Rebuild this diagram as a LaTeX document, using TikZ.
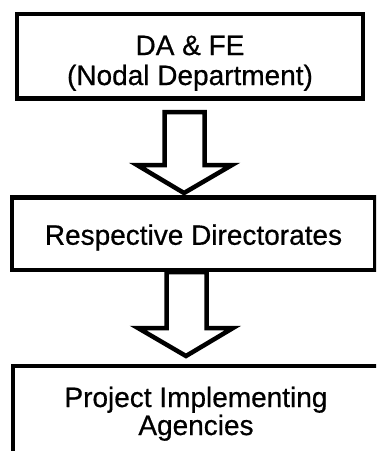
\documentclass[tikz,border=0pt]{standalone}
\usepackage{fontspec}
\setmainfont{Liberation Sans}
\newfontfamily\scanfont{Liberation Sans}[FakeBold=0.6]
\usetikzlibrary{calc}
\begin{document}
\begin{tikzpicture}[x=1pt,y=-1pt,
    box/.style={draw,line width=4.5pt,inner sep=0pt,outer sep=0pt},
    txt/.style={align=center,inner sep=0pt,font=\scanfont\fontsize{28}{28}\selectfont},
    hollow/.style={draw,line width=4.5pt,line join=miter}]
        \useasboundingbox (0,0) rectangle (376,451);
        \clip (0,0) rectangle (376,451);
        \node[box,minimum width=346pt,minimum height=84.5pt] (dafe) at (190,56.25) {};
        \node[box,minimum width=363pt,minimum height=72.5pt] (dirs) at (193.5,233.75) {};
        \node[box,minimum width=366pt,minimum height=88pt]   (pia)  at (196,410) {};
        \node[txt,anchor=base] (dafetxt) at ($(dafe.center)+(0,-1.25)$) {DA \& FE};
        \node[txt,anchor=base] (nodal)   at ($(dafe.center)+(0,28.75)$) {(Nodal Department)};
        \node[txt,anchor=base] (dirstxt) at ($(dirs.center)+(0,11)$) {Respective Directorates};
        \node[txt,anchor=base] (project) at ($(pia.center)+(0,-3)$) {Project Implementing};
        \node[txt,anchor=base] (agency)  at ($(pia.center)+(0,25)$) {Agencies};
        \coordinate (tip1) at ($(dirs.north)+(-9.5,-4.5)$);
        \coordinate (tip2) at ($(pia.north)+(-10,-10)$);
        \draw[hollow] ($(dafe.south)+(-25.5,13.5)$) -- ++(0,53) -- ++(-27.5,0) -- (tip1)
            -- ++(48,-28) -- ++(-27.5,0) -- ++(0,-53) -- cycle;
        \draw[hollow] ($(dirs.south)+(-27,2)$) -- ++(0,56) -- ++(-28.5,0) -- (tip2)
            -- ++(47,-28) -- ++(-26.5,0) -- ++(0,-56) -- cycle;
    \end{tikzpicture}
\end{document}
